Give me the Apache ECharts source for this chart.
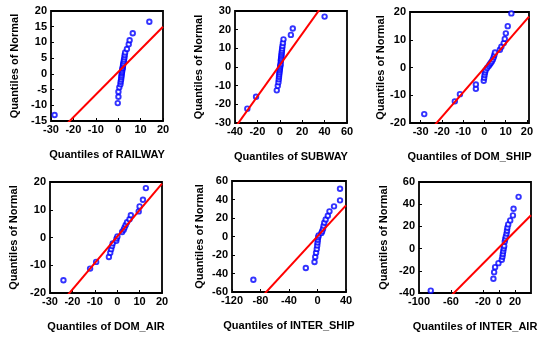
<!DOCTYPE html>
<html>
<head>
<meta charset="utf-8">
<script src="https://cdn.jsdelivr.net/npm/echarts@6/dist/echarts.min.js"></script>
<style>
    html, body { margin: 0; padding: 0; background: #fff; }
    #chart { width: 542px; height: 337px; }
</style>
</head>
<body>
<div id="chart"></div>
<script>
// sample quantiles (x) vs normal quantiles (y)
const railwayX = [-28.4, -0.2, 0.1, 0.1, 0.5, 1.0, 1.1, 1.3, 1.4, 1.5, 1.6, 1.7, 1.8, 1.9, 2.0, 2.1, 2.2, 2.3, 2.5, 2.6, 2.8, 2.9, 3.1, 3.9, 4.7, 5.1, 6.5, 13.9];
const railwayY = [-13.1, -9.3, -7.3, -5.7, -4.3, -3.3, -2.5, -1.8, -1.1, -0.5, 0.1, 0.6, 1.1, 1.6, 1.9, 2.4, 2.9, 3.4, 4.0, 4.6, 5.3, 6.0, 6.8, 7.9, 9.4, 10.7, 12.9, 16.6];
const railwayLineX = [-30, 20];
const railwayLineY = [-21.0, 15.0];

const subwayX = [-29.0, -21.2, -2.7, -1.8, -1.2, -0.9, -0.7, -0.5, -0.3, -0.1, 0.1, 0.3, 0.5, 0.7, 0.9, 1.0, 1.2, 1.4, 1.5, 1.7, 1.9, 2.1, 2.4, 2.8, 3.3, 9.9, 11.6, 40.0];
const subwayY = [-22.3, -15.9, -12.5, -10.1, -8.2, -6.6, -5.2, -4.0, -2.9, -1.9, -0.9, 0.0, 0.8, 1.6, 3.1, 3.9, 4.7, 5.6, 6.6, 7.6, 8.7, 9.9, 11.3, 12.9, 14.8, 17.2, 20.6, 27.0];
const subwayLineX = [-40, 60];
const subwayLineY = [-32.5, 51.3];

const domShipX = [-28.3, -13.9, -11.5, -4.0, -4.0, -0.3, -0.1, 0.1, 0.3, 0.6, 1.3, 2.0, 2.5, 3.0, 3.5, 4.0, 4.4, 4.7, 5.0, 7.3, 8.0, 9.1, 9.6, 10.1, 11.0, 12.7];
const domShipY = [-16.8, -12.2, -9.6, -7.7, -6.1, -4.8, -3.7, -2.7, -1.8, -1.0, -0.2, 0.5, 1.1, 1.6, 2.2, 2.9, 3.7, 4.5, 5.4, 6.4, 7.5, 8.8, 10.3, 12.3, 14.9, 19.5];
const domShipLineX = [-35, 21];
const domShipLineY = [-31.0, 18.3];

const domAirX = [-24.0, -12.1, -9.4, -3.7, -3.1, -2.7, -2.3, -2.0, -0.4, -0.3, 0.1, 2.2, 2.9, 3.3, 3.8, 4.4, 5.5, 6.1, 9.6, 10.0, 11.5, 12.8];
const domAirY = [-15.4, -11.2, -8.8, -7.0, -5.5, -4.2, -3.1, -2.1, -1.2, -0.4, 0.4, 2.0, 2.8, 3.6, 4.5, 5.5, 6.6, 8.0, 9.4, 11.2, 13.6, 17.8];
const domAirLineX = [-30, 20];
const domAirLineY = [-28.3, 19.4];

const interShipX = [-90, -16.4, -4.2, -3.2, -2.0, -1.0, -0.4, 0.1, 0.5, 1.0, 1.6, 5.5, 6.5, 7.8, 8.5, 9.5, 11.5, 14.5, 16.8, 23.2, 31.6, 31.6];
const interShipY = [-46.7, -34.1, -27.6, -22.2, -17.5, -13.4, -9.8, -6.5, -3.5, -0.8, 1.1, 3.9, 5.8, 8.5, 11.5, 14.8, 18.4, 22.5, 27.2, 32.6, 39.1, 51.7];
const interShipLineX = [-120, 40];
const interShipLineY = [-100.2, 33.7];

const interAirX = [-85.3, -7.0, -6.1, -4.9, -0.7, 3.5, 4.3, 4.8, 5.3, 5.9, 6.5, 7.2, 7.8, 8.6, 9.4, 10.0, 10.5, 11.5, 14.0, 17.4, 18.2, 24.5];
const interAirY = [-37.9, -27.2, -21.2, -16.7, -13.1, -10.1, -7.4, -4.8, -2.3, 0.1, 2.4, 6.3, 8.6, 11.0, 13.5, 16.1, 18.8, 21.8, 25.4, 29.9, 35.9, 46.6];
const interAirLineX = [-100, 40];
const interAirLineY = [-71.7, 30.1];

// tick labels
const railwayXTicks = [-30, -20, -10, 0, 10, 20];
const railwayYTicks = [-15, -10, -5, 0, 5, 10, 15, 20];
const subwayXTicks = [-40, -20, 0, 20, 40, 60];
const subwayYTicks = [-30, -20, -10, 0, 10, 20, 30];
const domShipXTicks = [-30, -20, -10, 0, 10, 20];
const domShipYTicks = [-20, -10, 0, 10, 20];
const domAirXTicks = [-30, -20, -10, 0, 10, 20];
const domAirYTicks = [-20, -10, 0, 10, 20];
const interShipXTicks = [-120, -80, -40, 0, 40];
const interShipYTicks = [-60, -40, -20, 0, 20, 40, 60];
const interAirXTicks = [-100, -60, -20, 0, 20];
const interAirYTicks = [-40, -20, 0, 20, 40, 60];

const panels = [
    { name: 'RAILWAY', x: railwayX, y: railwayY, lx: railwayLineX, ly: railwayLineY, xt: railwayXTicks, yt: railwayYTicks,
      xr: [-30, 20], yr: [-15, 20], box: [51, 11, 112, 110], yGap: 31 },
    { name: 'SUBWAY', x: subwayX, y: subwayY, lx: subwayLineX, ly: subwayLineY, xt: subwayXTicks, yt: subwayYTicks,
      xr: [-40, 60], yr: [-30, 30], box: [235, 11, 112, 112], yGap: 31 },
    { name: 'DOM_SHIP', x: domShipX, y: domShipY, lx: domShipLineX, ly: domShipLineY, xt: domShipXTicks, yt: domShipYTicks,
      xr: [-35, 21], yr: [-20, 20], box: [410, 12, 119, 111], yGap: 22 },
    { name: 'DOM_AIR', x: domAirX, y: domAirY, lx: domAirLineX, ly: domAirLineY, xt: domAirXTicks, yt: domAirYTicks,
      xr: [-30, 20], yr: [-20, 20], box: [50, 182, 112, 111], yGap: 31 },
    { name: 'INTER_SHIP', x: interShipX, y: interShipY, lx: interShipLineX, ly: interShipLineY, xt: interShipXTicks, yt: interShipYTicks,
      xr: [-120, 40], yr: [-60, 60], box: [232, 181, 114, 111], yGap: 27 },
    { name: 'INTER_AIR', x: interAirX, y: interAirY, lx: interAirLineX, ly: interAirLineY, xt: interAirXTicks, yt: interAirYTicks,
      xr: [-100, 40], yr: [-40, 60], box: [419, 182, 112, 111], yGap: 30 }
];

const font = { fontFamily: 'Liberation Sans', fontWeight: 'bold', fontSize: 11, color: '#000' };

const grids = [], xAxes = [], yAxes = [], series = [];
panels.forEach((p, i) => {
    grids.push({
        left: p.box[0], top: p.box[1], width: p.box[2], height: p.box[3],
        show: true, borderColor: '#000', borderWidth: 1.8
    });
    xAxes.push({
        gridIndex: i, type: 'value', min: p.xr[0], max: p.xr[1],
        name: 'Quantiles of ' + p.name, nameLocation: 'middle', nameGap: 28,
        nameTextStyle: font,
        axisLine: { show: false, onZero: false },
        axisTick: { inside: true, length: 3, customValues: p.xt, lineStyle: { color: '#000' } },
        axisLabel: Object.assign({ customValues: p.xt, margin: 3 }, font),
        splitLine: { show: false }
    });
    yAxes.push({
        gridIndex: i, type: 'value', min: p.yr[0], max: p.yr[1],
        name: 'Quantiles of Normal', nameLocation: 'middle', nameGap: p.yGap,
        nameTextStyle: font,
        axisLine: { show: false, onZero: false },
        axisTick: { inside: true, length: 3, customValues: p.yt, lineStyle: { color: '#000' } },
        axisLabel: Object.assign({ customValues: p.yt, margin: 4 }, font),
        splitLine: { show: false }
    });
    series.push({
        type: 'line', xAxisIndex: i, yAxisIndex: i,
        data: p.lx.map((v, k) => [v, p.ly[k]]),
        showSymbol: false, clip: true, silent: true,
        lineStyle: { color: '#ff0000', width: 2 }
    });
    series.push({
        type: 'scatter', xAxisIndex: i, yAxisIndex: i,
        data: p.x.map((v, k) => [v, p.y[k]]),
        symbol: 'circle', symbolSize: 4.5, clip: true,
        itemStyle: { color: '#ffffff', borderColor: '#0000ff', borderWidth: 1.9 }
    });
});

const chart = echarts.init(document.getElementById('chart'));
chart.setOption({
    animation: false,
    backgroundColor: '#fff',
    grid: grids,
    xAxis: xAxes,
    yAxis: yAxes,
    series: series
});
window.addEventListener('resize', () => chart.resize());
</script>
</body>
</html>
